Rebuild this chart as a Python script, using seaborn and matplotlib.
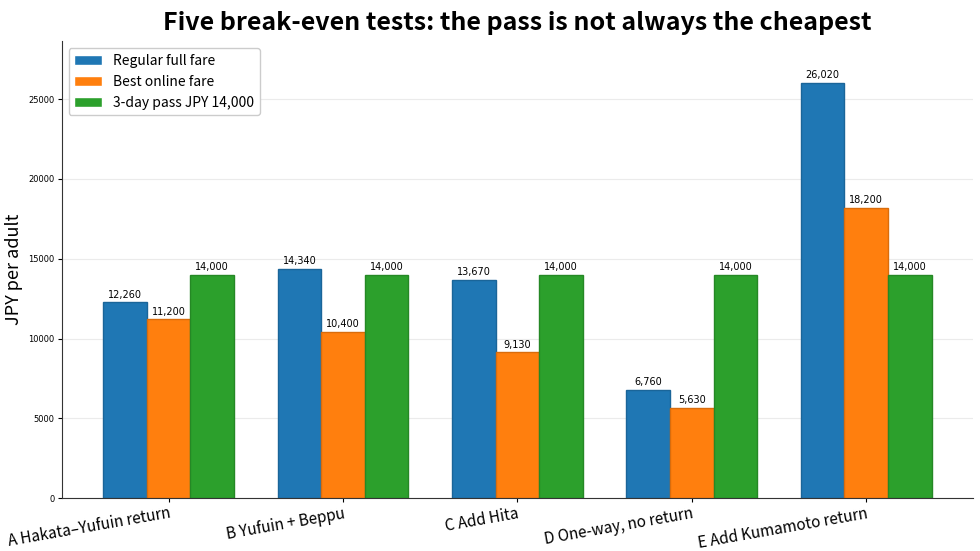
import matplotlib
matplotlib.use("Agg")
import matplotlib.pyplot as plt
import matplotlib.colors as mcolors
import numpy as np
import pandas as pd
import seaborn as sns

tests = ["A Hakata–Yufuin return", "B Yufuin + Beppu", "C Add Hita",
         "D One-way, no return", "E Add Kumamoto return"]
series = ["Regular full fare", "Best online fare", "3-day pass JPY 14,000"]
regular = [12260, 14340, 13670, 6760, 26020]
online = [11200, 10400, 9130, 5630, 18200]
pass_3day = [14000, 14000, 14000, 14000, 14000]
colors = ["#1f77b4", "#ff7f0e", "#2ca02c"]

df = pd.DataFrame({
    "test": tests * 3,
    "kind": [s for s in series for _ in tests],
    "jpy": regular + online + pass_3day,
})

sns.set_style("ticks")
plt.rcParams["font.family"] = ["Noto Sans CJK JP", "DejaVu Sans"]
for k in ["text.color", "axes.labelcolor", "xtick.color", "ytick.color"]:
    plt.rcParams[k] = "black"
plt.rcParams["axes.edgecolor"] = "#333333"

fig, ax = plt.subplots(figsize=(9.8, 5.51), dpi=100)
sns.barplot(data=df, x="test", y="jpy", hue="kind", palette=colors,
            saturation=1, width=0.75, gap=0, ax=ax, errorbar=None)

for cont, c in zip(ax.containers, colors):
    dark = np.array(mcolors.to_rgb(c)) * 0.85
    for p in cont:
        p.set_edgecolor(dark)
        p.set_linewidth(1)
    ax.bar_label(cont, fmt="{:,.0f}", padding=2, fontsize=7,
                 family="DejaVu Sans")

ax.set_xlim(-0.6125, 4.6125)
ax.set_ylim(0, max(regular) * 1.1)
ax.set_xlabel("")
ax.set_ylabel("JPY per adult", fontsize=13)
ax.yaxis.set_label_coords(-0.042, 0.5)
ax.set_title("Five break-even tests: the pass is not always the cheapest",
             fontsize=18, fontweight="bold", pad=8)
ax.grid(axis="y", color="#ebebeb", linewidth=0.8)
ax.set_axisbelow(True)
ax.tick_params(axis="both", length=3, pad=2)
for lab in ax.get_yticklabels():
    lab.set_fontsize(6)
    lab.set_family("DejaVu Sans")
plt.setp(ax.get_xticklabels(), rotation=10, ha="right",
         rotation_mode="anchor", fontsize=11)
ax.legend(title=None, loc="upper left", fontsize=10, framealpha=1)
sns.despine()

fig.subplots_adjust(left=0.063, right=0.993, top=0.925, bottom=0.096)
fig.savefig("out.png", dpi=100)
